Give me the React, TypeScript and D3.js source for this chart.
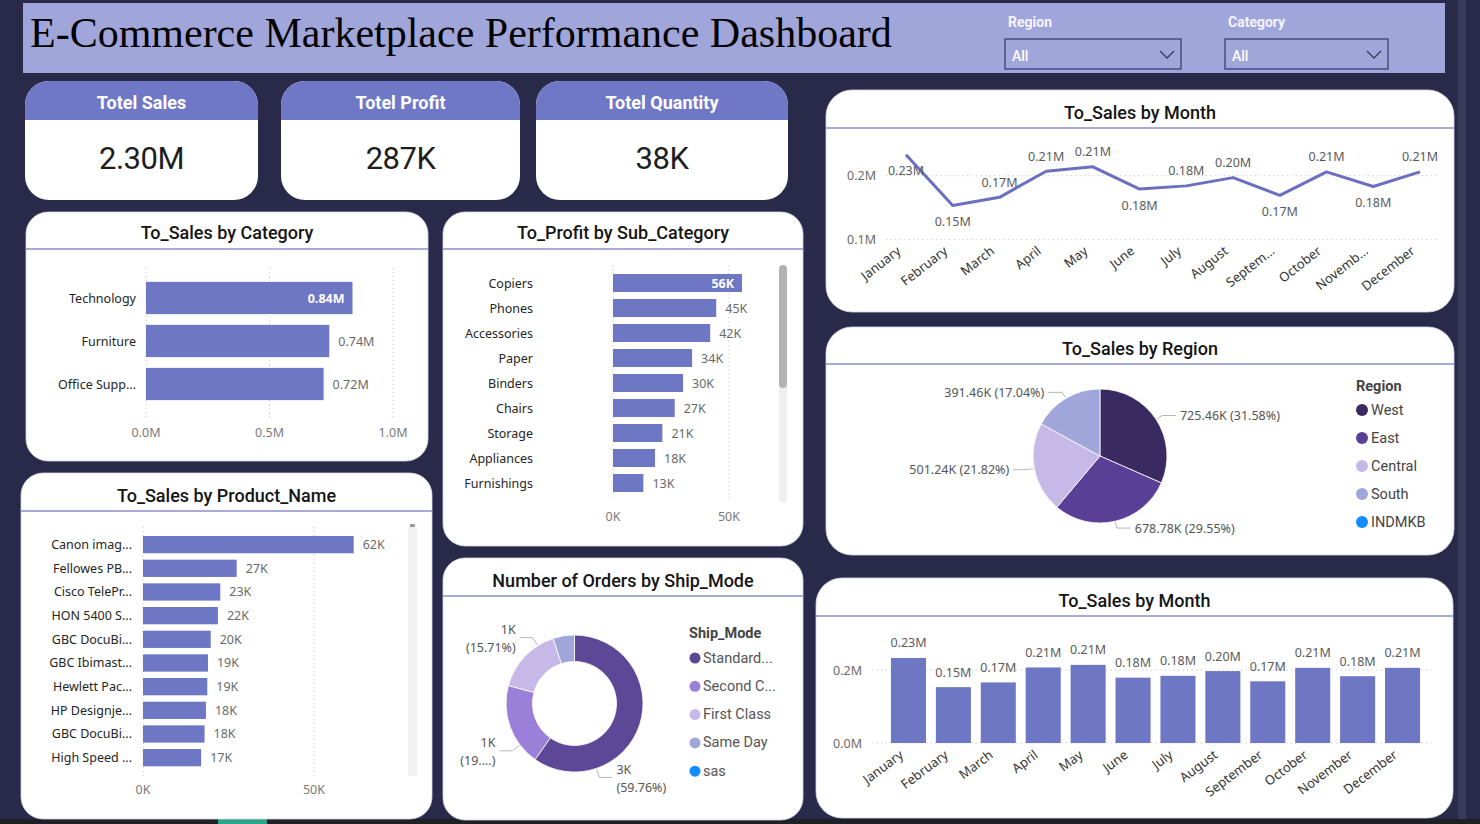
import * as d3 from 'd3'

// ---- data ----
const kpiTitles = ['Totel Sales', 'Totel Profit', 'Totel Quantity']
const kpiValues = [2297200, 286800, 37873]

const categoryLabels = ['Technology', 'Furniture', 'Office Supp...']
const categorySales = [0.836, 0.742, 0.719] // millions
const categoryTicks = [0, 0.5, 1.0]

const subCategories = ['Copiers', 'Phones', 'Accessories', 'Paper', 'Binders', 'Chairs', 'Storage', 'Appliances', 'Furnishings']
const subCategoryProfit = [55.6, 44.5, 41.9, 34.1, 30.2, 26.6, 21.3, 18.1, 13.1] // thousands
const profitTicks = [0, 50]

const productLabels = ['Canon imag...', 'Fellowes PB...', 'Cisco TelePr...', 'HON 5400 S...', 'GBC DocuBi...', 'GBC Ibimast...', 'Hewlett Pac...', 'HP Designje...', 'GBC DocuBi...', 'High Speed ...']
const productSales = [61.6, 27.4, 22.6, 21.9, 19.8, 19.0, 18.8, 18.4, 18.0, 17.0] // thousands
const productTicks = [0, 50]

const months = ['January', 'February', 'March', 'April', 'May', 'June', 'July', 'August', 'September', 'October', 'November', 'December']
const lineMonthLabels = ['January', 'February', 'March', 'April', 'May', 'June', 'July', 'August', 'Septem...', 'October', 'Novemb...', 'December']
const monthSales = [0.233, 0.153, 0.166, 0.207, 0.214, 0.179, 0.184, 0.197, 0.169, 0.206, 0.183, 0.206] // millions
const lineTicks = [0.1, 0.2]
const barTicks = [0, 0.2]

const regions = ['West', 'East', 'Central', 'South', 'INDMKB']
const regionSales = [725.46, 678.78, 501.24, 391.46, 0] // thousands
const regionColors = ['#3a2a62', '#5a3f96', '#c6b9e8', '#a0a6d9', '#118dff']

const shipModes = ['Standard Class', 'Second Class', 'First Class', 'Same Day', 'sas']
const shipOrders = [2987, 973, 785, 253, 0]
const shipColors = ['#5c4896', '#9a80d8', '#c6b9e8', '#a0a6d9', '#118dff']

// ---- style ----
const W = 1480
const H = 824
const BG = '#29294a'
const BAR = '#6e77c4'
const UI = "'Noto Sans', 'Open Sans', sans-serif"
const HEAD = "Roboto, 'Noto Sans', sans-serif"

const fmtM = (v: number) => v.toFixed(2) + 'M'
const fmtK = (v: number) => Math.round(v) + 'K'
const fmtKpi = (v: number) => (v >= 1e6 ? (v / 1e6).toFixed(2) + 'M' : Math.round(v / 1000) + 'K')
const shortName = (s: string) => (s.length > 11 ? s.slice(0, 8) + '...' : s)

function Card({ x, y, w, h, title, titleY, sepY, r = 22 }: any) {
  return (
    <g>
      <rect x={x} y={y} width={w} height={h} rx={r} fill="#fff" stroke="#d6d7ee" strokeWidth={0.8} />
      <text x={x + w / 2} y={titleY} textAnchor="middle" dominantBaseline="central"
        style={{ font: `500 18px ${HEAD}` }} fill="#151515">{title}</text>
      <line x1={x} x2={x + w} y1={sepY} y2={sepY} stroke="#8c8ecb" strokeWidth={1.5} />
    </g>
  )
}

type HBarProps = {
  labels: string[]; values: number[]; ticks: number[]
  tickFmt: (v: number) => string; valFmt: (v: number) => string
  x0: number; xRef: number; refVal: number; y0: number; y1: number; padIn: number
  labelX: number; tickY: number; gy0: number; gy1: number; plotMax: number
}

function HBar(p: HBarProps) {
  const x = d3.scaleLinear().domain([0, p.refVal]).range([p.x0, p.xRef])
  const y = d3.scaleBand<number>().domain(d3.range(p.values.length))
    .range([p.y0, p.y1]).paddingInner(p.padIn).paddingOuter(p.padIn / 2)
  return (
    <g style={{ font: `12.5px ${UI}` }}>
      {p.ticks.map(t => (
        <line key={'g' + t} x1={x(t)} x2={x(t)} y1={p.gy0} y2={p.gy1} stroke="#c4c4c4" strokeDasharray="1,3" />
      ))}
      {p.ticks.map(t => (
        <text key={'t' + t} x={x(t)} y={p.tickY} textAnchor="middle" dominantBaseline="central" fill="#7a7a7a">{p.tickFmt(t)}</text>
      ))}
      {p.values.map((v, i) => {
        const yy = y(i)!
        const bw = y.bandwidth()
        const xe = x(v)
        const lab = p.valFmt(v)
        const inside = xe + 9 + lab.length * 7 > p.plotMax
        return (
          <g key={i}>
            <rect x={p.x0} y={yy} width={xe - p.x0} height={bw} fill={BAR} />
            <text x={p.labelX} y={yy + bw / 2} textAnchor="end" dominantBaseline="central" fill="#252525">{p.labels[i]}</text>
            <text x={inside ? xe - 8 : xe + 9} y={yy + bw / 2} textAnchor={inside ? 'end' : 'start'} dominantBaseline="central"
              fill={inside ? '#fff' : '#6a6a6a'} fontWeight={inside ? 700 : 400}>{lab}</text>
          </g>
        )
      })}
    </g>
  )
}

function LineChart() {
  const x = d3.scalePoint<string>().domain(months).range([906, 1420])
  const y = d3.scaleLinear().domain([0.1, 0.2]).range([239.3, 175.7])
  const line = d3.line<number>().x((_, i) => x(months[i])!).y(d => y(d))
  return (
    <g style={{ font: `12.5px ${UI}` }}>
      {lineTicks.map(t => (
        <g key={t}>
          <line x1={886} x2={1438} y1={y(t)} y2={y(t)} stroke="#cfcfcf" strokeDasharray="1.5,3" />
          <text x={876} y={y(t)} textAnchor="end" dominantBaseline="central" fill="#6a6a6a">{t.toFixed(1)}M</text>
        </g>
      ))}
      <path d={line(monthSales)!} fill="none" stroke="#6b6fbf" strokeWidth={3} strokeLinejoin="round" />
      {monthSales.map((v, i) => {
        const prev = i > 0 ? monthSales[i - 1] : Infinity
        const next = i < monthSales.length - 1 ? monthSales[i + 1] : Infinity
        const below = i === 0 || (v < prev && v < next)
        return (
          <text key={'v' + i} x={x(months[i])} y={y(v) + (below ? 16 : -15)} textAnchor="middle" dominantBaseline="central" fill="#5a5a5a">{fmtM(v)}</text>
        )
      })}
      {lineMonthLabels.map((m, i) => (
        <text key={'m' + i} transform={`translate(${x(months[i])! - 7},${249}) rotate(-38)`} textAnchor="end" dy="0.35em" fill="#333" fontSize={13}>{m}</text>
      ))}
    </g>
  )
}

function BarChart() {
  const x = d3.scaleBand<string>().domain(months).range([886, 1425]).paddingInner(0.22).paddingOuter(0.11)
  const y = d3.scaleLinear().domain([0, 0.2]).range([743, 670])
  return (
    <g style={{ font: `12.5px ${UI}` }}>
      {barTicks.map(t => (
        <g key={t}>
          <line x1={872} x2={1432} y1={y(t)} y2={y(t)} stroke="#cfcfcf" strokeDasharray="1.5,3" />
          <text x={862} y={y(t)} textAnchor="end" dominantBaseline="central" fill="#6a6a6a">{t.toFixed(1)}M</text>
        </g>
      ))}
      {monthSales.map((v, i) => {
        const bx = x(months[i])!
        const bw = x.bandwidth()
        return (
          <g key={i}>
            <rect x={bx} y={y(v)} width={bw} height={y(0) - y(v)} fill={BAR} />
            <text x={bx + bw / 2} y={y(v) - 15} textAnchor="middle" dominantBaseline="central" fill="#5a5a5a">{fmtM(v)}</text>
            <text transform={`translate(${bx + bw / 2 - 7},${753}) rotate(-37)`} textAnchor="end" dy="0.35em" fill="#333" fontSize={13}>{months[i]}</text>
          </g>
        )
      })}
    </g>
  )
}

function RegionPie() {
  const cx = 1100, cy = 456, r = 67
  const total = d3.sum(regionSales)
  const arcs = d3.pie<number>().sort(null).value(d => d)(regionSales)
  const arc = d3.arc<d3.PieArcDatum<number>>().innerRadius(0).outerRadius(r)
  return (
    <g style={{ font: `12.5px ${UI}` }}>
      <g transform={`translate(${cx},${cy})`}>
        {arcs.map((a, i) => a.value > 0 && (
          <path key={i} d={arc(a)!} fill={regionColors[i]} stroke="#fff" strokeWidth={0.8} />
        ))}
      </g>
      {arcs.map((a, i) => {
        if (a.value <= 0) return null
        const m = (a.startAngle + a.endAngle) / 2
        const s = Math.sin(m), c = -Math.cos(m)
        const p0 = [cx + (r + 1) * s, cy + (r + 1) * c]
        const p1 = [cx + (r + 7) * s, cy + (r + 7) * c]
        const right = s >= 0
        const p2 = [p1[0] + (right ? 14 : -14), p1[1]]
        return (
          <g key={'l' + i}>
            <polyline points={`${p0} ${p1} ${p2}`} fill="none" stroke="#b5b5b5" />
            <text x={p2[0] + (right ? 4 : -4)} y={p2[1]} textAnchor={right ? 'start' : 'end'} dominantBaseline="central" fill="#555">
              {`${a.value.toFixed(2)}K (${(a.value / total * 100).toFixed(2)}%)`}
            </text>
          </g>
        )
      })}
      <text x={1356} y={386} dominantBaseline="central" style={{ font: `700 14.5px ${HEAD}` }} fill="#444">Region</text>
      {regions.map((g, i) => (
        <g key={g} style={{ font: `14.5px ${HEAD}` }}>
          <circle cx={1362} cy={410 + i * 28} r={6} fill={regionColors[i]} />
          <text x={1371} y={410 + i * 28} dominantBaseline="central" fill="#444">{g}</text>
        </g>
      ))}
    </g>
  )
}

const shipLabelAt = [0.75, 0.25, 0.75, 0.5]

function ShipDonut() {
  const cx = 574.5, cy = 703.5, ro = 68.5, ri = 42
  const total = d3.sum(shipOrders)
  const arcs = d3.pie<number>().sort(null).value(d => d)(shipOrders)
  const arc = d3.arc<d3.PieArcDatum<number>>().innerRadius(ri).outerRadius(ro)
  return (
    <g style={{ font: `12.5px ${UI}` }}>
      <g transform={`translate(${cx},${cy})`}>
        {arcs.map((a, i) => a.value > 0 && (
          <path key={i} d={arc(a)!} fill={shipColors[i]} stroke="#fff" strokeWidth={0.8} />
        ))}
      </g>
      {arcs.map((a, i) => {
        if (a.value / total < 0.08) return null
        const m = a.startAngle + (a.endAngle - a.startAngle) * shipLabelAt[i]
        const s = Math.sin(m), c = -Math.cos(m)
        const p0 = [cx + (ro + 1) * s, cy + (ro + 1) * c]
        const p1 = [cx + (ro + 9.5) * s, cy + (ro + 9.5) * c]
        const right = s >= 0
        const p2 = [p1[0] + (right ? 13 : -13), p1[1]]
        const tx = p2[0] + (right ? 4 : -4)
        const pct = (a.value / total * 100).toFixed(2)
        const pctLab = i === 1 ? '(19....)' : `(${pct}%)`
        return (
          <g key={'l' + i}>
            <polyline points={`${p0} ${p1} ${p2}`} fill="none" stroke="#b5b5b5" />
            <text x={tx} y={p2[1] - 8} textAnchor={right ? 'start' : 'end'} dominantBaseline="central" fill="#555">{fmtK(a.value / 1000)}</text>
            <text x={tx} y={p2[1] + 10} textAnchor={right ? 'start' : 'end'} dominantBaseline="central" fill="#555">{pctLab}</text>
          </g>
        )
      })}
      <text x={689} y={633} dominantBaseline="central" style={{ font: `700 14.5px ${HEAD}` }} fill="#444">Ship_Mode</text>
      {shipModes.map((g, i) => (
        <g key={g} style={{ font: `14.5px ${HEAD}` }}>
          <circle cx={695} cy={658 + i * 28.3} r={5.5} fill={shipColors[i]} />
          <text x={703} y={658 + i * 28.3} dominantBaseline="central" fill="#555">{shortName(g)}</text>
        </g>
      ))}
    </g>
  )
}

const kpiX = [25, 281, 536]
const kpiW = [233, 239, 252]

export default function App() {
  return (
    <svg width={W} height={H} viewBox={`0 0 ${W} ${H}`} style={{ position: 'absolute', left: 0, top: 0, display: 'block' }}>
      <rect width={W} height={H} fill={BG} />
      <rect x={1458} y={0} width={8} height={819} fill="#3a3a58" />
      <rect x={0} y={819} width={W} height={5} fill="#1f1f24" />
      <rect x={218} y={819} width={49} height={5} fill="#2aa58a" />

      {/* header */}
      <rect x={23} y={3} width={1422} height={70} fill="#a1a6da" />
      <text x={30} y={47} style={{ font: "42px 'Liberation Serif', 'Times New Roman', serif" }} fill="#000">
        E-Commerce Marketplace Performance Dashboard
      </text>
      {[
        { label: 'Region', x: 1005, w: 176 },
        { label: 'Category', x: 1225, w: 163 },
      ].map(f => (
        <g key={f.label}>
          <text x={f.x + 3} y={22} dominantBaseline="central" style={{ font: `700 14px ${HEAD}` }} fill="#f4f4ff">{f.label}</text>
          <rect x={f.x} y={39} width={f.w} height={30} fill="none" stroke="#3d3f6e" strokeWidth={1.3} />
          <text x={f.x + 7} y={56} dominantBaseline="central" style={{ font: `500 14px ${HEAD}` }} fill="#fff">All</text>
          <polyline points={`${f.x + f.w - 21},${51} ${f.x + f.w - 14},${58} ${f.x + f.w - 7},${51}`} fill="none" stroke="#3a3a5a" strokeWidth={1.3} />
        </g>
      ))}

      {/* KPI cards */}
      {kpiTitles.map((t, i) => (
        <g key={t}>
          <clipPath id={`kpi${i}`}>
            <rect x={kpiX[i]} y={81} width={kpiW[i]} height={119} rx={24} />
          </clipPath>
          <g clipPath={`url(#kpi${i})`}>
            <rect x={kpiX[i]} y={81} width={kpiW[i]} height={119} fill="#fff" />
            <rect x={kpiX[i]} y={81} width={kpiW[i]} height={39} fill="#6f78c6" />
          </g>
          <text x={kpiX[i] + kpiW[i] / 2} y={102} textAnchor="middle" dominantBaseline="central" style={{ font: `700 18px ${HEAD}` }} fill="#fff">{t}</text>
          <text x={kpiX[i] + kpiW[i] / 2} y={158} textAnchor="middle" dominantBaseline="central" style={{ font: `400 31px ${HEAD}`, letterSpacing: '-0.5px' }} fill="#1e1e1e">{fmtKpi(kpiValues[i])}</text>
        </g>
      ))}

      {/* Sales by category */}
      <Card x={26} y={212} w={402} h={249} title="To_Sales by Category" titleY={232} sepY={249} />
      <HBar labels={categoryLabels} values={categorySales} ticks={categoryTicks}
        tickFmt={t => t.toFixed(1) + 'M'} valFmt={fmtM}
        x0={146} xRef={393} refVal={1.0} y0={276.5} y1={405.5} padIn={0.25}
        labelX={136} tickY={432} gy0={268} gy1={418} plotMax={393} />

      {/* Profit by sub category */}
      <Card x={443} y={212} w={360} h={334} title="To_Profit by Sub_Category" titleY={232} sepY={249} />
      <HBar labels={subCategories} values={subCategoryProfit} ticks={profitTicks}
        tickFmt={t => t + 'K'} valFmt={fmtK}
        x0={613} xRef={729} refVal={50} y0={270.5} y1={495.5} padIn={0.28}
        labelX={533} tickY={516} gy0={265} gy1={500} plotMax={765} />
      <rect x={779} y={265} width={8} height={238} rx={4} fill="#efefef" />
      <rect x={779} y={265} width={8} height={123} rx={4} fill="#b3b3b3" />

      {/* Sales by product */}
      <Card x={21} y={473} w={411} h={346} title="To_Sales by Product_Name" titleY={495} sepY={511} />
      <HBar labels={productLabels} values={productSales} ticks={productTicks}
        tickFmt={t => t + 'K'} valFmt={fmtK}
        x0={143} xRef={314} refVal={50} y0={532.8} y1={769.5} padIn={0.27}
        labelX={132} tickY={789} gy0={527} gy1={778} plotMax={400} />
      <rect x={408} y={527} width={9} height={249} fill="#f1f1f1" />
      <rect x={410} y={524} width={5} height={3} fill="#9a9a9a" />

      {/* Orders by ship mode */}
      <Card x={443} y={558} w={360} h={262} title="Number of Orders by Ship_Mode" titleY={580} sepY={596} />
      <ShipDonut />

      {/* Sales by month line */}
      <Card x={826} y={90} w={628} h={222} title="To_Sales by Month" titleY={112} sepY={128} r={26} />
      <LineChart />

      {/* Sales by region */}
      <Card x={826} y={327} w={628} h={228} title="To_Sales by Region" titleY={348} sepY={364} r={26} />
      <RegionPie />

      {/* Sales by month bars */}
      <Card x={816} y={578} w={637} h={240} title="To_Sales by Month" titleY={600} sepY={616} r={26} />
      <BarChart />
    </svg>
  )
}
